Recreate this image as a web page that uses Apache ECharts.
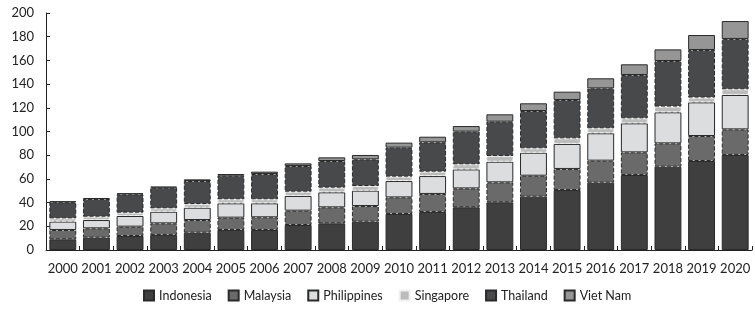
<!DOCTYPE html>
<html>
<head>
<meta charset="utf-8">
<script src="https://cdn.jsdelivr.net/npm/echarts@6/dist/echarts.min.js"></script>
<style>
  html, body { margin: 0; padding: 0; background: #fff; }
  #chart { width: 755px; height: 311px; }
</style>
</head>
<body>
<div id="chart"></div>
<script>
// years on the x axis
var years = ['2000', '2001', '2002', '2003', '2004', '2005', '2006', '2007', '2008', '2009', '2010',
  '2011', '2012', '2013', '2014', '2015', '2016', '2017', '2018', '2019', '2020'];

// stacked values
var indonesia = [9, 10.4, 11.8, 12.7, 14.6, 16.9, 16.9, 21.1, 22.5, 23.9, 30.4, 32.1, 36, 40.2, 45, 50.6, 56.8, 63.3, 70.3, 75.1, 80.2];
var malaysia = [7.9, 7.9, 7.9, 9.8, 10.7, 10.4, 10.7, 12.1, 13.5, 13.2, 14, 15.2, 16, 16.9, 17.7, 17.8, 18.6, 19.1, 19.7, 21.1, 21.6];
var philippines = [7.1, 7, 9, 9.8, 10.4, 12.1, 11.8, 12.4, 12.7, 13, 13.8, 15.1, 16, 17.4, 19.4, 21.1, 23.1, 24.5, 26.2, 28.4, 29];
var singapore = [2.7, 2.8, 2.8, 2.9, 3.1, 3.4, 3.4, 3.6, 3.9, 3.9, 3.7, 3.7, 4.3, 4.8, 3.7, 4.7, 4.2, 4.2, 4.8, 4, 4.8];
var thailand = [13.6, 14.9, 15.5, 17.4, 19.4, 19.9, 21.3, 21.7, 22.5, 22.5, 24.5, 24.8, 27.6, 29, 31.5, 32.4, 33.7, 36.6, 38.5, 40.2, 42.5];
var vietNam = [0.8, 0.8, 0.9, 0.9, 1.4, 1.4, 2, 2.2, 3.1, 3.7, 4.2, 4.7, 4.7, 6.2, 6.5, 7, 8.5, 9, 9.8, 12.6, 15.1];

var font = 'Lato, "Open Sans", sans-serif';

// one stacked bar series
function barSeries(name, data, color, border, type) {
  return {
    name: name,
    type: 'bar',
    stack: 'total',
    data: data,
    barWidth: '80%',
    itemStyle: {
      color: color,
      borderColor: border,
      borderWidth: 1,
      borderType: type
    }
  };
}

var chart = echarts.init(document.getElementById('chart'));
chart.setOption({
  animation: false,
  textStyle: { fontFamily: font },
  grid: { left: 46, right: 3, top: 13, bottom: 61 },
  legend: {
    bottom: 4,
    left: 138,
    icon: 'rect',
    itemWidth: 10,
    itemHeight: 10,
    itemGap: 16,
    textStyle: { fontSize: 12.5, color: '#222', fontFamily: font }
  },
  xAxis: {
    type: 'category',
    data: years,
    axisLine: { lineStyle: { color: '#222', width: 1 } },
    axisTick: { show: true, inside: true, length: 4, lineStyle: { color: '#222' } },
    axisLabel: { color: '#222', fontSize: 13, margin: 12, fontFamily: font, interval: 0 }
  },
  yAxis: {
    type: 'value',
    min: 0,
    max: 200,
    interval: 20,
    splitLine: { show: false },
    axisLine: { show: true, lineStyle: { color: '#222', width: 1 } },
    axisTick: { show: true, inside: true, length: 4, lineStyle: { color: '#222' } },
    axisLabel: { color: '#222', fontSize: 13, margin: 12, fontFamily: font }
  },
  series: [
    barSeries('Indonesia', indonesia, '#3f3f3f', '#2a2a2a', 'solid'),
    barSeries('Malaysia', malaysia, '#6a6a6a', '#2a2a2a', 'dashed'),
    barSeries('Philippines', philippines, '#dcdddf', '#2a2a2a', 'solid'),
    barSeries('Singapore', singapore, '#bcbcbc', '#f0f0f0', 'dashed'),
    barSeries('Thailand', thailand, '#48494b', '#2a2a2a', 'dashed'),
    barSeries('Viet Nam', vietNam, '#969696', '#2a2a2a', 'solid')
  ]
});
</script>
</body>
</html>
